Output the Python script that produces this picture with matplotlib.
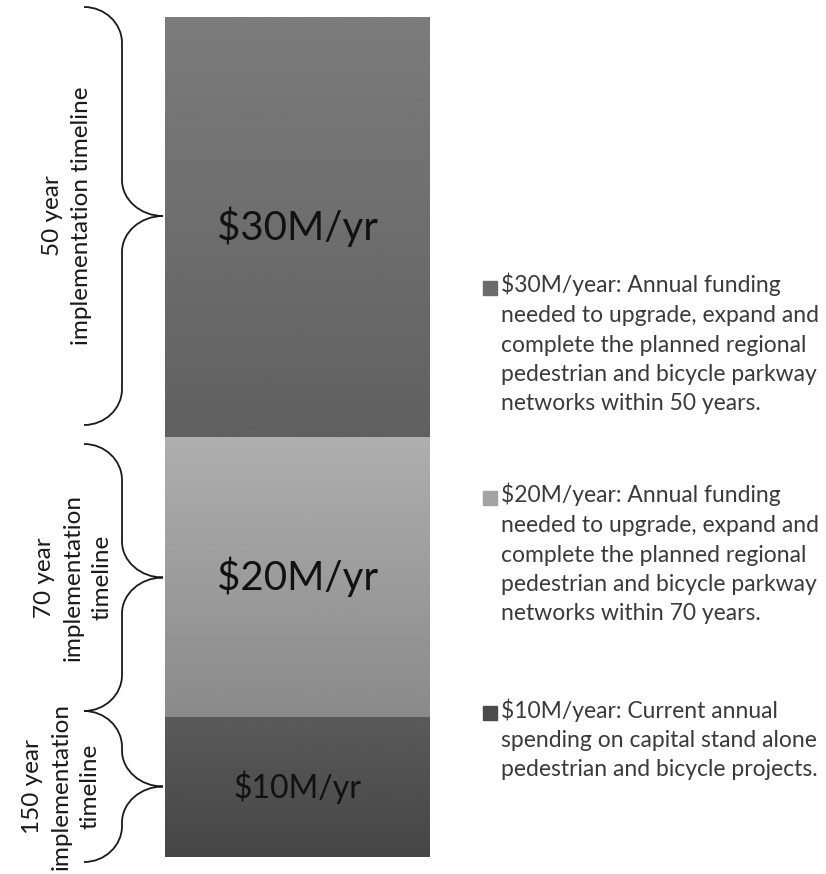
import numpy as np
import matplotlib
matplotlib.use("Agg")
import matplotlib.pyplot as plt
from matplotlib.path import Path
from matplotlib.patches import PathPatch, Rectangle

plt.rcParams['font.family'] = ['Lato', 'DejaVu Sans']

# data (bottom to top)
segments = ['$10M/yr', '$20M/yr', '$30M/yr']
values = [10, 20, 30]
timelines = ['150 year\nimplementation\ntimeline',
             '70 year\nimplementation\ntimeline',
             '50 year\nimplementation timeline']
legend_texts = [
    '$10M/year: Current annual\nspending on capital stand alone\npedestrian and bicycle projects.',
    '$20M/year: Annual funding\nneeded to upgrade, expand and\ncomplete the planned regional\n'
    'pedestrian and bicycle parkway\nnetworks within 70 years.',
    '$30M/year: Annual funding\nneeded to upgrade, expand and\ncomplete the planned regional\n'
    'pedestrian and bicycle parkway\nnetworks within 50 years.',
]

# gradient colours (top, bottom) in grey levels, and the legend swatch colours
grad = [(90, 70), (174, 138), (124, 96)]
swatch = ['#4b4b4b', '#a3a3a3', '#6b6b6b']
label_size = [23, 29, 29]

W, H = 826, 874
fig = plt.figure(figsize=(W / 100, H / 100), dpi=100)
ax = fig.add_axes([165 / W, 17 / H, 265 / W, 840 / H])
ov = fig.add_axes([0, 0, 1, 1], zorder=-1)
ov.set_xlim(0, W)
ov.set_ylim(H, 0)
ov.axis('off')

bottoms = np.concatenate([[0], np.cumsum(values)[:-1]])
bars = [ax.bar([0], [v], width=1, bottom=b, color='none')[0] for v, b in zip(values, bottoms)]

for p, (ct, cb), lab, fs in zip(bars, grad, segments, label_size):
    x0, y0, w, h = p.get_x(), p.get_y(), p.get_width(), p.get_height()
    g = np.linspace(ct, cb, 256).reshape(-1, 1)
    ax.imshow(g, cmap='gray', vmin=0, vmax=255, extent=[x0, x0 + w, y0, y0 + h],
              aspect='auto', origin='upper', zorder=1)
    ax.text(x0 + w / 2, y0 + h / 2, lab, ha='center', va='center', fontsize=fs,
            color='#111111', zorder=3)

ax.set_xlim(-0.5, 0.5)
ax.set_ylim(0, sum(values))
ax.axis('off')


def to_px(y):
    return H - ax.transData.transform((0, y))[1]


def brace(y0, y1, x_end, x_body, x_tip, r=36, k=0.55):
    ym = (y0 + y1) / 2
    r = min(r, (y1 - y0) / 4)
    verts = [(x_end, y0),
             (x_end + k * (x_body - x_end), y0), (x_body, y0 + r - k * r), (x_body, y0 + r),
             (x_body, ym - r),
             (x_body, ym - r + k * r), (x_tip - k * (x_tip - x_body), ym), (x_tip, ym),
             (x_tip - k * (x_tip - x_body), ym), (x_body, ym + r - k * r), (x_body, ym + r),
             (x_body, y1 - r),
             (x_body, y1 - r + k * r), (x_end + k * (x_body - x_end), y1), (x_end, y1)]
    codes = [Path.MOVETO] + [Path.CURVE4] * 3 + [Path.LINETO] + [Path.CURVE4] * 6 + \
            [Path.LINETO] + [Path.CURVE4] * 3
    ov.add_patch(PathPatch(Path(verts, codes), fill=False, lw=1.3, ec='#1a1a1a'))
    return ym


# brace pads (top, bottom) in pixels
pads = [(-6, 5), (7, -6), (-10, -12)]
text_x = [61, 73, 67]
for b, v, lab, (pt, pb), tx in zip(bottoms, values, timelines, pads, text_x):
    top_px, bot_px = to_px(b + v), to_px(b)
    ym = brace(top_px + pt, bot_px + pb, 84, 122, 163)
    ov.text(tx, ym, lab, rotation=90, ha='center', va='center', fontsize=17.5,
            color='#1a1a1a', linespacing=1.45, multialignment='center')

# legend
leg_y = [713, 498, 288]
for c, t, y in zip(swatch, legend_texts, leg_y):
    ov.add_patch(Rectangle((483, y - 7), 14, 14, color=c))
    ov.text(501, y - 15, t, ha='left', va='top', fontsize=16.5, color='#3a3a3a',
            linespacing=1.5)

fig.savefig('out.png', dpi=100, facecolor='white')
